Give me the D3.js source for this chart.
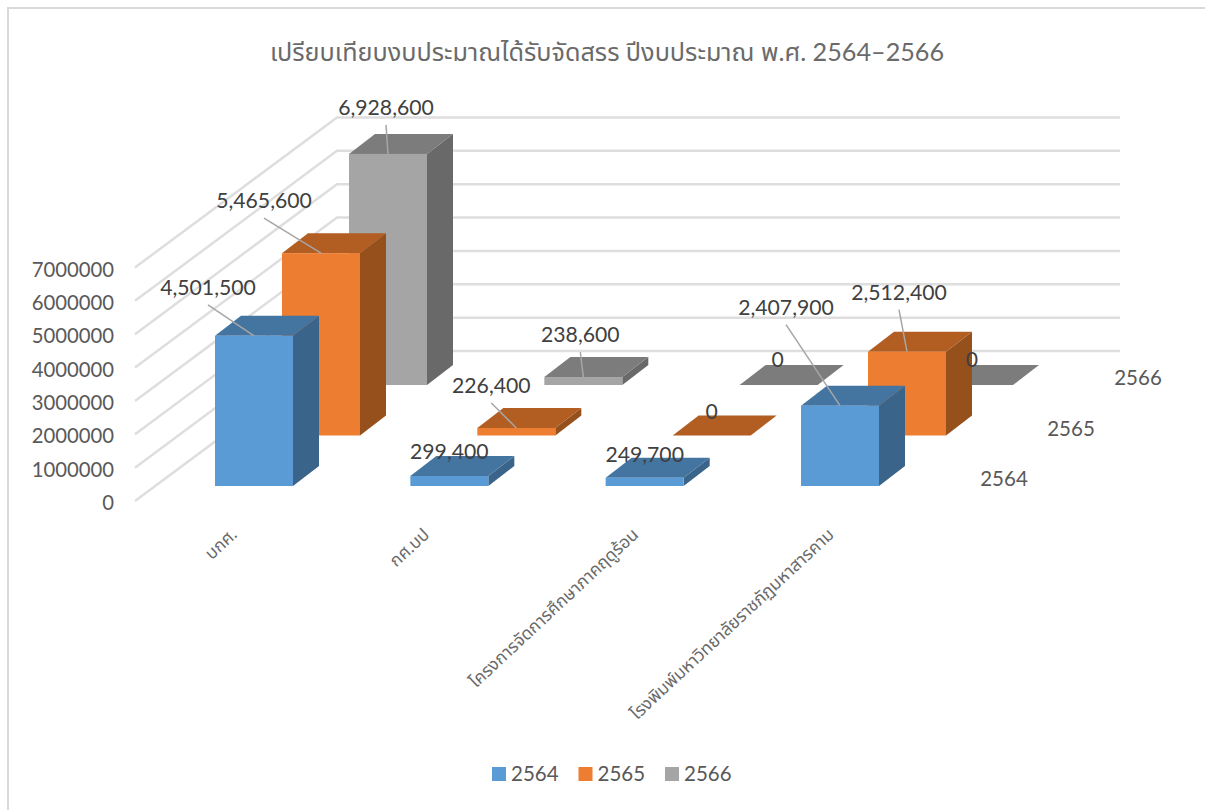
<!DOCTYPE html>
<html>
<head>
<meta charset="utf-8">
<script src="https://cdn.jsdelivr.net/npm/d3@7"></script>
<style>
  html, body { margin: 0; background: #fff; }
  svg { display: block; }
  text { font-family: Lato, "Noto Sans", "Noto Sans Thai", sans-serif; }
</style>
</head>
<body>
<svg id="chart" width="1205" height="810"></svg>
<script>
const title = "เปรียบเทียบงบประมาณได้รับจัดสรร ปีงบประมาณ พ.ศ. 2564–2566";
const categories = ["บกศ.", "กศ.บป", "โครงการจัดการศึกษาภาคฤดูร้อน", "โรงพิมพ์มหาวิทยาลัยราชภัฏมหาสารคาม"];
const seriesNames = ["2564", "2565", "2566"];
const values2564 = [4501500, 299400, 249700, 2407900];
const values2565 = [5465600, 226400, 0, 2512400];
const values2566 = [6928600, 238600, 0, 0];
const yTicks = [0, 1000000, 2000000, 3000000, 4000000, 5000000, 6000000, 7000000];

// label offset from the middle of the bar's front top edge; lead = draw a leader line
const labelLayout = {
  "2564": [[-46, -48, 1], [0, -24, 0], [0, -23, 0], [-54, -98, 1]],
  "2565": [[-57, -52, 1], [-25, -42, 1], [0, -24, 0], [-8, -59, 1]],
  "2566": [[-2, -46, 1], [-3, -42, 1], [-1, -25, 0], [-2, -25, 0]]
};
const catLabelShift = [-5, -8, 6, 6];

const colors = {
  "2564": { front: "#5b9bd5", top: "#4475a0", side: "#3a6489" },
  "2565": { front: "#ed7d31", top: "#b25d21", side: "#95501c" },
  "2566": { front: "#a5a5a5", top: "#7c7c7c", side: "#696969" }
};

const barW = 78, depthX = 26, depthY = 20;
const wallX = 202, wallY = 150;

const svg = d3.select("#chart");
const ink = "#404040", muted = "#595959";

const x = d3.scalePoint().domain(categories).range([215, 801]);
const zx = d3.scalePoint().domain(seriesNames).range([0, 134]);
const zy = d3.scalePoint().domain(seriesNames).range([486, 385]);
const y = d3.scaleLinear().domain([0, 7000000]).range([501, 267.5]);
const h = v => y(0) - y(v);

// frame
svg.append("path").attr("d", "M8,810V8H1205").attr("fill", "none").attr("stroke", "#d9d9d9").attr("stroke-width", 2);

svg.append("text").attr("x", 607).attr("y", 61).attr("text-anchor", "middle")
  .attr("font-size", 25.2).attr("fill", "#6a6a6a").text(title);

// gridlines: side wall then back wall
const grid = svg.append("g").attr("fill", "none").attr("stroke", "#dedede").attr("stroke-width", 2.5);
grid.selectAll("path").data(yTicks).join("path")
  .attr("d", d => `M135,${y(d)}L${135 + wallX},${y(d) - wallY}H1120`);

const gy = svg.append("g").attr("transform", "translate(117,2)")
  .call(d3.axisLeft(y).tickValues(yTicks).tickFormat(d3.format("d")).tickSize(0));
gy.select(".domain").remove();
gy.selectAll("text").attr("font-size", 20.3).attr("font-family", "Lato").attr("fill", muted);

// bars, back series first
const valuesBySeries = { "2564": values2564, "2565": values2565, "2566": values2566 };
const rows = seriesNames.flatMap(s => categories.map((c, i) => ({
  s, c, i, v: valuesBySeries[s][i],
  x0: x(c) + zx(s), y0: zy(s), ht: h(valuesBySeries[s][i])
})));

const bars = svg.append("g");
[...seriesNames].reverse().forEach(s => {
  const g = bars.append("g");
  const r = rows.filter(d => d.s === s);
  g.selectAll("path.side").data(r).join("path").attr("class", "side")
    .attr("fill", colors[s].side)
    .attr("d", d => `M${d.x0 + barW},${d.y0}v${-d.ht}l${depthX},${-depthY}v${d.ht}l${-depthX},${depthY}z`);
  g.selectAll("path.top").data(r).join("path").attr("class", "top")
    .attr("fill", colors[s].top)
    .attr("d", d => `M${d.x0},${d.y0 - d.ht}l${depthX},${-depthY}h${barW}l${-depthX},${depthY}z`);
  g.selectAll("rect").data(r).join("rect")
    .attr("x", d => d.x0).attr("y", d => d.y0 - d.ht)
    .attr("width", barW).attr("height", d => d.ht)
    .attr("fill", colors[s].front);
});

// data labels + leaders
const labels = svg.append("g");
rows.forEach(d => {
  const [dx, dy, lead] = labelLayout[d.s][d.i];
  const ax = d.x0 + barW / 2, ay = d.y0 - d.ht;
  if (lead) {
    labels.append("line").attr("x1", ax).attr("y1", ay)
      .attr("x2", ax + dx).attr("y2", ay + dy + 17)
      .attr("stroke", "#a6a6a6").attr("stroke-width", 1.5);
  }
  labels.append("text").attr("x", ax + dx).attr("y", ay + dy + 7)
    .attr("text-anchor", "middle").attr("font-size", 21.2).attr("fill", ink)
    .text(d3.format(",")(d.v));
});

// depth axis labels
svg.append("g").selectAll("text").data(seriesNames).join("text")
  .attr("x", d => x(categories[3]) + zx(d) + 203)
  .attr("y", d => zy(d) - 0)
  .attr("text-anchor", "middle").attr("font-size", 20.5).attr("fill", muted).text(d => d);

// category labels
svg.append("g").selectAll("text").data(categories).join("text")
  .attr("text-anchor", "end").attr("font-size", 17.4).attr("fill", "#6a6a6a")
  .attr("transform", (d, i) => `translate(${x(d) + 28 + catLabelShift[i]},536) rotate(-43)`)
  .text(d => d);

// legend
const legendX = d3.scalePoint().domain(seriesNames).range([492, 665]);
const lg = svg.append("g").selectAll("g").data(seriesNames).join("g")
  .attr("transform", d => `translate(${legendX(d)},767)`);
lg.append("rect").attr("width", 14).attr("height", 14).attr("fill", d => colors[d].front);
lg.append("text").attr("x", 19).attr("y", 14).attr("font-size", 20.5).attr("fill", muted).text(d => d);
</script>
</body>
</html>
